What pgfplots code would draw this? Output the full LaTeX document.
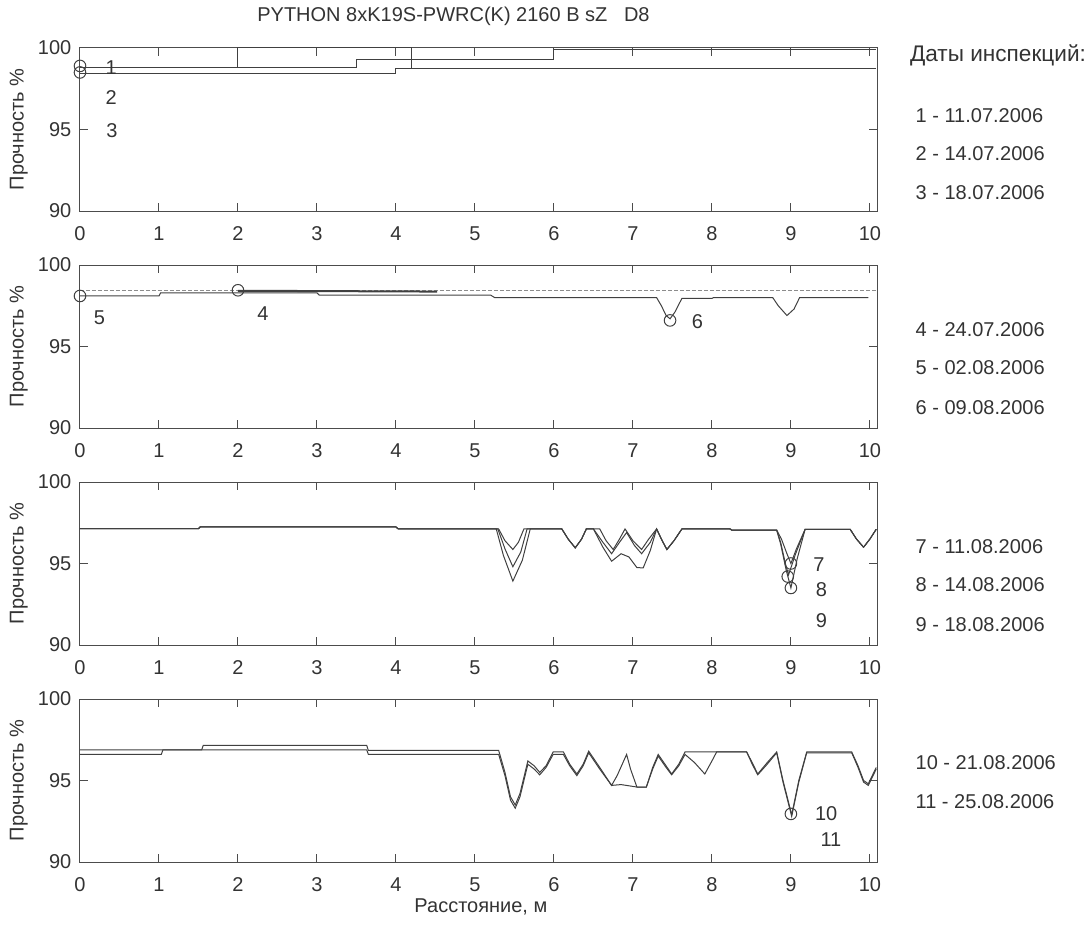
\documentclass[border=0pt]{standalone}
\usepackage{fontspec}
\setmainfont{Liberation Sans}
\usepackage{pgfplots}
\pgfplotsset{compat=1.18}
\newcommand{\fs}{\fontsize{10}{12}\selectfont}
\newcommand{\fh}{\fontsize{11.3}{13}\selectfont}
\tikzset{
  ln/.style={black!75, line width=0.5pt},
  lbl/.style={font=\fs, text=black!80, anchor=west, inner sep=0pt},
  circ/.style={only marks, mark=o, mark size=2.9pt, black!75, mark options={line width=0.5pt}},
}
\pgfplotsset{
  myax/.style={
    scale only axis, width=398.5pt, height=81.5pt,
    xmin=0, xmax=10.09, ymin=90, ymax=100,
    xtick={0,1,...,10}, ytick={90,95,100},
    tick align=inside, major tick length=4pt,
    xtick pos=both, ytick pos=both, xticklabel pos=lower, yticklabel pos=left,
    axis line style={black!70, line width=0.5pt},
    every tick/.style={black!70, line width=0.5pt},
    /pgf/number format/assume math mode=true,
    tick label style={font=\fs, text=black!80},
    xticklabel style={yshift=-4.2pt},
    yticklabel style={xshift=-0.8pt},
    ylabel={Прочность \%},
    ylabel style={at={(axis description cs:-0.0565,0.5)}, anchor=south, font=\fs, text=black!80},
    anchor=north west, clip=false,
  },
}
\begin{document}
\begin{tikzpicture}
\useasboundingbox (-40pt,24pt) rectangle (506pt,-439pt);
% ---------------- plot 1
\begin{axis}[myax, at={(0pt,0pt)}]
\addplot[ln] coordinates {(0,98.83)(2,98.83)(2,100)(4.2,100)(4.2,98.75)(10.08,98.75)};
\addplot[ln] coordinates {(0,98.83)(3.5,98.83)(3.5,99.32)(6,99.32)(6,99.9)(10.08,99.9)};
\addplot[ln] coordinates {(0,98.46)(4,98.46)(4,98.72)(10.08,98.72)};
\addplot[circ] coordinates {(0,98.9)(0,98.5)};
\node[lbl] at (axis cs:0.32,98.77) {1};
\node[lbl] at (axis cs:0.32,96.99) {2};
\node[lbl] at (axis cs:0.33,94.96) {3};
\node[lbl] at (rel axis cs:0.222,1.196) {PYTHON 8xK19S-PWRC(K) 2160 B sZ\ \ \ D8};
\node[lbl, font=\fh] at (rel axis cs:1.041,0.957) {Даты инспекций:};
\node[lbl] at (rel axis cs:1.048,0.583) {1 - 11.07.2006};
\node[lbl] at (rel axis cs:1.048,0.350) {2 - 14.07.2006};
\node[lbl] at (rel axis cs:1.048,0.110) {3 - 18.07.2006};
\end{axis}
% ---------------- plot 2
\begin{axis}[myax, at={(0pt,-108.5pt)}]
\addplot[black!45, line width=0.5pt, dash pattern=on 2pt off 1pt] coordinates {(0,98.42)(10.08,98.42)};
\addplot[ln] coordinates {(0,98.1)(1,98.1)(1.02,98.29)(3,98.29)(3.03,98.15)(5.2,98.15)(5.25,98.0)(7.3,98.0)(7.36,97.5)(7.42,96.9)(7.47,96.7)(7.53,97.1)(7.62,97.95)(8.0,97.95)(8.02,98.0)(8.77,98.0)(8.84,97.5)(8.95,96.9)(9.04,97.3)(9.11,98.0)(9.98,98.0)};
\addplot[black!75, line width=1pt] coordinates {(2,98.42)(4.52,98.37)};
\addplot[circ] coordinates {(0,98.1)(2,98.45)(7.47,96.6)};
\node[lbl] at (axis cs:0.17,96.77) {5};
\node[lbl] at (axis cs:2.24,97.0) {4};
\node[lbl] at (axis cs:7.74,96.5) {6};
\node[lbl] at (rel axis cs:1.048,0.601) {4 - 24.07.2006};
\node[lbl] at (rel axis cs:1.048,0.368) {5 - 02.08.2006};
\node[lbl] at (rel axis cs:1.048,0.123) {6 - 09.08.2006};
\end{axis}
% ---------------- plot 3
\begin{axis}[myax, at={(0pt,-217pt)}]
% series 7
\addplot[ln] coordinates {(0,97.14)(1.5,97.14)(1.52,97.24)(4.0,97.24)(4.03,97.12)(5.3,97.12)(5.38,96.4)(5.48,95.86)(5.55,96.3)(5.62,97.12)
 (6.1,97.12)(6.18,96.5)(6.27,95.96)(6.35,96.5)(6.41,97.12)(6.58,97.12)(6.66,96.4)(6.75,95.86)(6.83,96.5)(6.9,97.12)(7.0,96.4)(7.11,95.86)(7.2,96.5)(7.3,97.12)
 (7.37,96.4)(7.43,95.86)(7.52,96.4)(7.62,97.12)(8.23,97.12)(8.25,97.05)(8.82,97.05)(8.88,96.5)(8.95,95.6)(9.0,95.0)(9.07,95.9)(9.18,97.1)(9.75,97.1)(9.83,96.5)(9.92,96.0)(10.0,96.5)(10.08,97.1)};
% series 8
\addplot[ln] coordinates {(0,97.14)(1.5,97.14)(1.52,97.24)(4.0,97.24)(4.03,97.12)(5.29,97.12)(5.38,95.9)(5.48,94.8)(5.58,95.7)(5.66,97.12)
 (6.1,97.12)(6.18,96.5)(6.27,95.96)(6.35,96.5)(6.41,97.12)(6.5,97.12)(6.62,96.3)(6.73,95.6)(6.83,96.3)(6.92,96.9)(7.02,96.1)(7.11,95.6)(7.22,96.3)(7.3,97.12)
 (7.37,96.4)(7.43,95.86)(7.52,96.4)(7.62,97.12)(8.23,97.12)(8.25,97.05)(8.82,97.05)(8.87,96.3)(8.93,95.0)(8.97,94.3)(9.06,95.6)(9.18,97.1)(9.75,97.1)(9.83,96.5)(9.92,96.0)(10.0,96.5)(10.08,97.1)};
% series 9
\addplot[ln] coordinates {(0,97.14)(1.5,97.14)(1.52,97.24)(4.0,97.24)(4.03,97.12)(5.27,97.12)(5.36,95.5)(5.48,93.92)(5.6,95.2)(5.70,97.12)
 (6.1,97.12)(6.18,96.5)(6.27,95.96)(6.35,96.5)(6.41,97.12)(6.5,97.12)(6.62,96.0)(6.73,95.14)(6.85,95.6)(6.95,95.4)(7.05,94.75)(7.13,94.73)(7.22,95.8)(7.3,97.12)
 (7.37,96.4)(7.43,95.86)(7.52,96.4)(7.62,97.12)(8.23,97.12)(8.25,97.05)(8.82,97.05)(8.87,96.2)(8.94,94.6)(9.0,93.5)(9.08,95.3)(9.18,97.1)(9.75,97.1)(9.83,96.5)(9.92,96.0)(10.0,96.5)(10.08,97.1)};
\addplot[circ] coordinates {(9.0,95.0)(8.96,94.2)(9.0,93.5)};
\node[lbl] at (axis cs:9.28,94.94) {7};
\node[lbl] at (axis cs:9.31,93.41) {8};
\node[lbl] at (axis cs:9.31,91.47) {9};
\node[lbl] at (rel axis cs:1.048,0.601) {7 - 11.08.2006};
\node[lbl] at (rel axis cs:1.048,0.368) {8 - 14.08.2006};
\node[lbl] at (rel axis cs:1.048,0.123) {9 - 18.08.2006};
\end{axis}
% ---------------- plot 4
\begin{axis}[myax, at={(0pt,-325.5pt)}]
% series 10
\addplot[ln] coordinates {(0,96.88)(1.54,96.88)(1.56,97.15)(3.63,97.15)(3.65,96.85)(5.3,96.85)(5.38,95.5)(5.45,94.0)(5.51,93.5)(5.57,94.2)(5.67,96.2)(5.75,95.9)(5.82,95.5)(5.9,95.9)(5.99,96.75)(6.12,96.75)(6.2,96.0)(6.29,95.4)(6.37,96.0)(6.44,96.8)(6.58,95.8)(6.73,94.7)(6.8,95.3)(6.92,96.6)(6.97,95.7)(7.05,94.6)(7.17,94.6)(7.25,95.8)(7.32,96.6)(7.42,95.9)(7.49,95.4)(7.58,96.0)(7.66,96.75)(8.44,96.75)(8.51,96.1)(8.58,95.4)(8.7,96.1)(8.82,96.75)(8.9,95.0)(9.01,92.9)(9.1,95.0)(9.2,96.75)(9.77,96.75)(9.85,95.9)(9.92,95.0)(9.98,94.8)(10.03,95.3)(10.08,95.8)};
% series 11
\addplot[ln] coordinates {(0,96.61)(1.03,96.61)(1.05,96.88)(3.63,96.88)(3.65,96.61)(5.3,96.61)(5.38,95.3)(5.45,93.8)(5.51,93.3)(5.57,94.0)(5.67,96.0)(5.75,95.7)(5.82,95.35)(5.9,95.8)(5.99,96.6)(6.12,96.6)(6.2,95.9)(6.29,95.3)(6.37,95.9)(6.44,96.7)(6.58,95.7)(6.73,94.7)(6.85,94.75)(7.05,94.6)(7.17,94.6)(7.25,95.7)(7.32,96.5)(7.42,95.8)(7.49,95.35)(7.58,95.9)(7.66,96.6)(7.78,96.1)(7.91,95.4)(8.0,96.2)(8.06,96.75)(8.44,96.75)(8.51,96.0)(8.58,95.35)(8.7,96.0)(8.82,96.7)(8.9,94.9)(9.01,92.8)(9.1,94.9)(9.2,96.7)(9.77,96.7)(9.85,95.8)(9.92,94.9)(9.98,94.7)(10.03,95.2)(10.08,95.7)};
\addplot[circ] coordinates {(9.0,92.95)};
\node[lbl] at (axis cs:9.30,92.98) {10};
\node[lbl] at (axis cs:9.37,91.37) {11};
\node[lbl] at (rel axis cs:1.048,0.607) {10 - 21.08.2006};
\node[lbl] at (rel axis cs:1.048,0.368) {11 - 25.08.2006};
\node[font=\fs, text=black!80] at (rel axis cs:0.503,-0.275) {Расстояние, м};
\end{axis}
\end{tikzpicture}
\end{document}
